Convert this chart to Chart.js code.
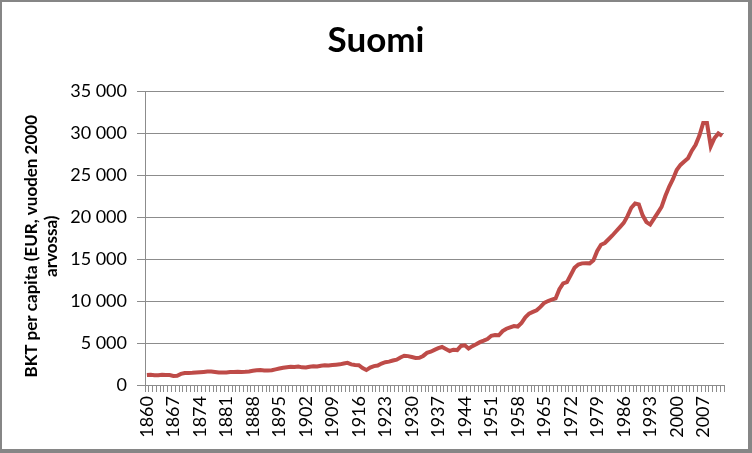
<!DOCTYPE html>
<html>
<head>
<meta charset="utf-8">
<script src="https://cdn.jsdelivr.net/npm/chart.js@4/dist/chart.umd.min.js"></script>
<style>
  html, body { margin: 0; padding: 0; background: #fff; }
  #wrap { width: 752px; height: 453px; position: relative; }
</style>
</head>
<body>
<div id="wrap"><canvas id="c" width="752" height="453"></canvas></div>
<script>
// Years 1860–2012
const startYear = 1860;
const endYear = 2012;
const years = [];
for (let y = startYear; y <= endYear; y++) years.push(String(y));

// Tick labels shown on the category axis (every 7 years)
const tickLabels = ['1860','1867','1874','1881','1888','1895','1902','1909','1916','1923','1930',
  '1937','1944','1951','1958','1965','1972','1979','1986','1993','2000','2007'];

// BKT per capita (EUR, vuoden 2000 arvossa)
const gdp1860s = [1200, 1230, 1150, 1170, 1210, 1190, 1180, 1080, 1100, 1320];
const gdp1870s = [1430, 1440, 1450, 1480, 1520, 1560, 1600, 1610, 1560, 1500];
const gdp1880s = [1480, 1500, 1540, 1560, 1570, 1560, 1580, 1620, 1700, 1760];
const gdp1890s = [1790, 1740, 1720, 1760, 1860, 1960, 2060, 2120, 2180, 2150];
const gdp1900s = [2200, 2100, 2080, 2180, 2230, 2200, 2300, 2340, 2320, 2380];
const gdp1910s = [2420, 2460, 2560, 2640, 2450, 2380, 2360, 2020, 1780, 2080];
const gdp1920s = [2250, 2320, 2560, 2720, 2780, 2920, 3020, 3280, 3480, 3440];
const gdp1930s = [3330, 3220, 3240, 3460, 3820, 3960, 4180, 4380, 4520, 4280];
const gdp1940s = [4050, 4200, 4160, 4650, 4720, 4330, 4620, 4840, 5100, 5280];
const gdp1950s = [5480, 5860, 5940, 5920, 6420, 6700, 6860, 7020, 6960, 7400];
const gdp1960s = [8050, 8500, 8700, 8900, 9300, 9780, 10000, 10160, 10300, 11400];
const gdp1970s = [12100, 12250, 13100, 13950, 14350, 14480, 14500, 14480, 14850, 15950];
const gdp1980s = [16700, 16900, 17350, 17800, 18300, 18800, 19300, 20100, 21100, 21600];
const gdp1990s = [21500, 20200, 19400, 19100, 19800, 20500, 21200, 22500, 23600, 24500];
const gdp2000s = [25600, 26200, 26600, 27000, 27900, 28600, 29700, 31200, 31200, 28400];
const gdp2010s = [29400, 29950, 29650];

const gdp = [].concat(gdp1860s, gdp1870s, gdp1880s, gdp1890s, gdp1900s, gdp1910s, gdp1920s,
  gdp1930s, gdp1940s, gdp1950s, gdp1960s, gdp1970s, gdp1980s, gdp1990s, gdp2000s, gdp2010s);

const yTicks = [0, 5000, 10000, 15000, 20000, 25000, 30000, 35000];

function fmt(v) {
  return String(v).replace(/\B(?=(\d{3})+(?!\d))/g, '\u00a0');
}

const frame = {
  id: 'frame',
  beforeDraw(chart) {
    const ctx = chart.ctx;
    ctx.save();
    ctx.fillStyle = '#fff';
    ctx.fillRect(0, 0, chart.width, chart.height);
    ctx.restore();
  },
  afterDraw(chart) {
    const ctx = chart.ctx;
    ctx.save();
    ctx.fillStyle = '#868686';
    ctx.fillRect(0, 0, chart.width, 2);
    ctx.fillRect(0, 0, 2, chart.height);
    ctx.fillRect(chart.width - 4, 0, 4, chart.height);
    ctx.fillRect(0, chart.height - 4, chart.width, 4);
    ctx.restore();
  }
};

const gridColor = '#8c8c8c';
const font = 'Lato';

new Chart(document.getElementById('c'), {
  type: 'line',
  data: {
    labels: years,
    datasets: [{
      label: 'Suomi',
      data: gdp,
      borderColor: '#be4b48',
      borderWidth: 4,
      pointRadius: 0,
      tension: 0,
      fill: false,
      yAxisID: 'y'
    }]
  },
  options: {
    responsive: false,
    animation: false,
    devicePixelRatio: 1,
    layout: { padding: { left: 0, right: 0, top: 0, bottom: 0 } },
    plugins: {
      legend: { display: false },
      tooltip: { enabled: false },
      title: {
        display: true,
        text: 'Suomi',
        color: '#000',
        font: { family: font, size: 35, weight: 'bold', lineHeight: 1.2 },
        padding: { top: 20, bottom: 29 }
      }
    },
    scales: {
      x: {
        type: 'category',
        offset: true,
        grid: {
          offset: true,
          drawOnChartArea: false,
          drawTicks: true,
          tickLength: 7,
          color: gridColor
        },
        border: { display: true, color: gridColor, width: 1 },
        ticks: {
          autoSkip: false,
          maxRotation: 90,
          minRotation: 90,
          padding: 4,
          color: '#000',
          font: { family: font, size: 18 },
          callback: function (value) {
            const lab = this.getLabelForValue(value);
            return tickLabels.includes(lab) ? lab : '';
          }
        },
        afterFit(scale) { scale.height = 68; }
      },
      y: {
        min: 0,
        max: 35000,
        grid: {
          color: gridColor,
          lineWidth: 1,
          drawTicks: true,
          tickLength: 8
        },
        border: { display: true, color: gridColor, width: 1 },
        afterBuildTicks(scale) {
          scale.ticks = yTicks.map(v => ({ value: v }));
        },
        ticks: {
          padding: 10,
          color: '#000',
          font: { family: font, size: 18 },
          callback: (v) => fmt(v)
        },
        title: {
          display: true,
          text: ['BKT per capita (EUR, vuoden 2000    ', 'arvossa)    '],
          color: '#000',
          font: { family: font, size: 17, weight: 'bold', lineHeight: 1.15 },
          padding: { top: 22, bottom: 0 }
        },
        afterFit(scale) { scale.width = 145; }
      },
      yRight: {
        position: 'right',
        min: 0,
        max: 35000,
        grid: { display: false, drawOnChartArea: false },
        border: { display: false },
        ticks: { display: false },
        afterFit(scale) { scale.width = 28; }
      }
    }
  },
  plugins: [frame]
});
</script>
</body>
</html>
